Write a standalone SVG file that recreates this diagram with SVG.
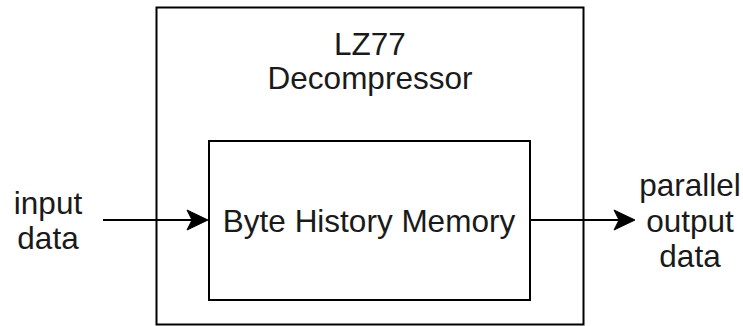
<svg xmlns="http://www.w3.org/2000/svg" width="743" height="326" viewBox="0 0 743 326">
<style>
.box{fill:#fff;stroke:#000;stroke-width:2}
.t{font-family:"Liberation Sans",Arial,sans-serif;font-size:31.5px;fill:#1a1a1a;text-anchor:middle}
.c{stroke:#000;stroke-width:2;fill:none}
.ah{fill:#000;stroke:#000;stroke-width:1}
</style>
<rect width="743" height="326" fill="#fff"/>
<g id="decompressor">
<rect class="box" x="156.5" y="7.5" width="427" height="317"/>
<text class="t" x="370" y="54.5">LZ77</text>
<text class="t" x="370" y="89">Decompressor</text>
</g>
<g id="memory">
<rect class="box" x="209" y="141" width="321" height="159"/>
<text class="t" x="369" y="231.5">Byte History Memory</text>
</g>
<g id="input">
<text class="t" x="48" y="213.5">input</text>
<text class="t" x="48" y="249">data</text>
</g>
<g id="output">
<text class="t" x="690" y="196">parallel</text>
<text class="t" x="690" y="231.5">output</text>
<text class="t" x="690" y="267">data</text>
</g>
<g id="connectors">
<line class="c" x1="103" y1="220" x2="195" y2="220"/>
<path class="ah" d="M208,220 L187,210 L192,220 L187,230 Z"/>
<line class="c" x1="530" y1="220" x2="622" y2="220"/>
<path class="ah" d="M635,220 L614,210 L619,220 L614,230 Z"/>
</g>
</svg>
